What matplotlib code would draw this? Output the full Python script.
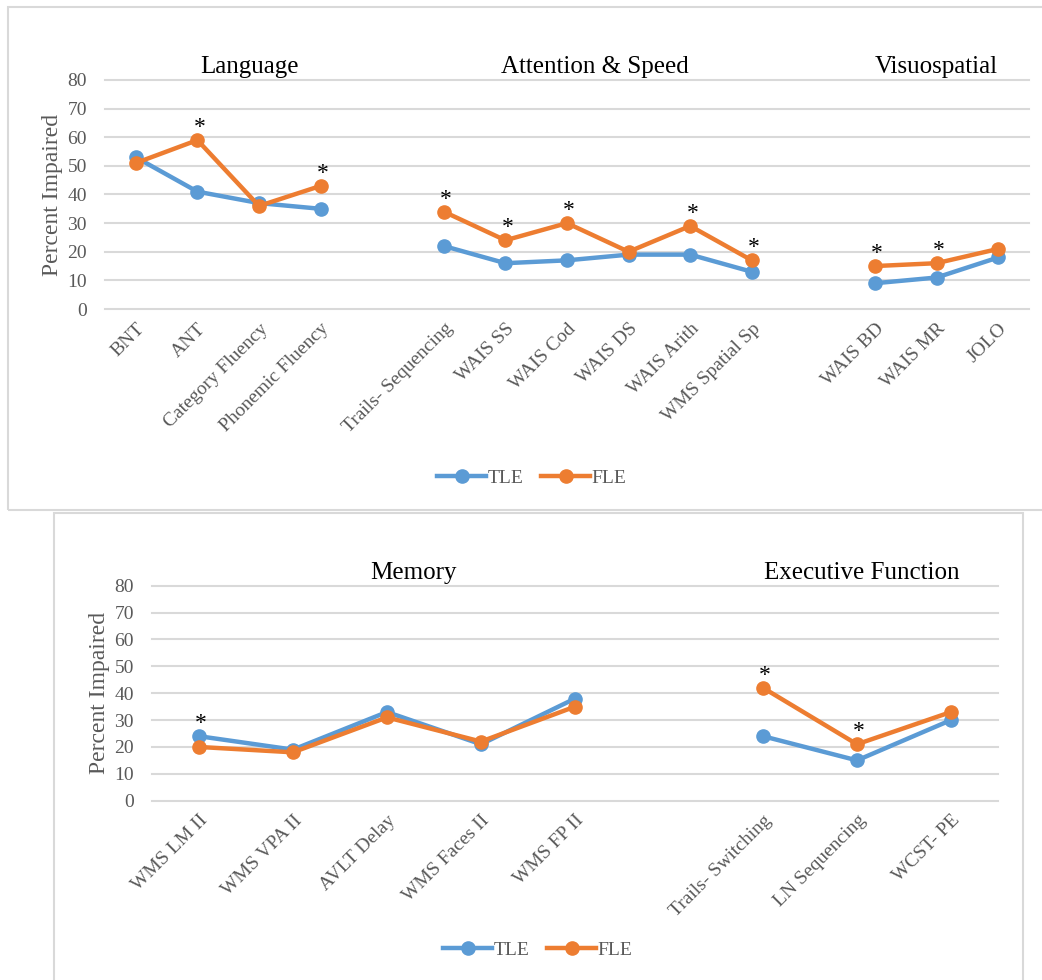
import matplotlib.pyplot as plt
import numpy as np
from matplotlib.lines import Line2D
from matplotlib.patches import Rectangle

plt.rcParams["font.family"] = ["Liberation Serif", "DejaVu Serif"]

TLE_COLOR = "#5B9BD5"
FLE_COLOR = "#ED7D31"
GRID_COLOR = "#D9D9D9"
TEXT_GRAY = "#595959"

# --- top panel data -------------------------------------------------------
LANG_LABELS = ["BNT", "ANT", "Category Fluency", "Phonemic Fluency"]
LANG_TLE = [53, 41, 37, 35]
LANG_FLE = [51, 59, 36, 43]
LANG_STAR = [False, True, False, True]

ATTN_LABELS = ["Trails- Sequencing", "WAIS SS", "WAIS Cod", "WAIS DS",
               "WAIS Arith", "WMS Spatial Sp"]
ATTN_TLE = [22, 16, 17, 19, 19, 13]
ATTN_FLE = [34, 24, 30, 20, 29, 17]
ATTN_STAR = [True, True, True, False, True, True]

VISUO_LABELS = ["WAIS BD", "WAIS MR", "JOLO"]
VISUO_TLE = [9, 11, 18]
VISUO_FLE = [15, 16, 21]
VISUO_STAR = [True, True, False]

# --- bottom panel data ----------------------------------------------------
MEM_LABELS = ["WMS LM II", "WMS VPA II", "AVLT Delay", "WMS Faces II", "WMS FP II"]
MEM_TLE = [24, 19, 33, 21, 38]
MEM_FLE = [20, 18, 31, 22, 35]
MEM_STAR = [True, False, False, False, False]

EXEC_LABELS = ["Trails- Switching", "LN Sequencing", "WCST- PE"]
EXEC_TLE = [24, 15, 30]
EXEC_FLE = [42, 21, 33]
EXEC_STAR = [True, True, False]

LW = 3.2
MS = 9.5


def draw_panel(ax, groups, title_x):
    ticks, labels = [], []
    offset = 0
    for (title, labs, tle, fle, stars), tx in zip(groups, title_x):
        x = offset + np.arange(len(labs))
        ax.plot(x, tle, color=TLE_COLOR, lw=LW, marker="o", ms=MS,
                solid_capstyle="round", zorder=3)
        ax.plot(x, fle, color=FLE_COLOR, lw=LW, marker="o", ms=MS,
                solid_capstyle="round", zorder=4)
        for xi, a, b, s in zip(x, tle, fle, stars):
            if s:
                ax.annotate("*", (xi, max(a, b)), xytext=(1.5, 9),
                            textcoords="offset points", ha="center", va="center",
                            fontsize=17, color="black", zorder=5)
        ax.text(offset + tx, 82.5, title, ha="center", va="baseline",
                fontsize=18, color="black")
        ticks.extend(x)
        labels.extend(labs)
        offset += len(labs) + 1

    ax.set_xlim(-0.5, offset - 1.5)
    ax.set_ylim(0, 80)
    ax.set_yticks(range(0, 81, 10))
    ax.set_xticks(ticks)
    ax.set_xticklabels(labels, rotation=45, ha="right", rotation_mode="anchor",
                       fontsize=14, color=TEXT_GRAY)
    ax.tick_params(axis="y", length=0, pad=13, labelsize=14, labelcolor=TEXT_GRAY)
    ax.tick_params(axis="x", length=0, pad=8)
    for sp in ax.spines.values():
        sp.set_visible(False)
    ax.yaxis.grid(True, color=GRID_COLOR, lw=1.5)
    for gl in ax.get_ygridlines():
        gl.set_clip_on(False)
    ax.set_axisbelow(True)
    ax.set_ylabel("Percent Impaired", fontsize=17, color=TEXT_GRAY, labelpad=3)


def add_legend(fig, cx, cy):
    handles = [
        Line2D([], [], color=TLE_COLOR, lw=LW, marker="o", ms=MS),
        Line2D([], [], color=FLE_COLOR, lw=LW, marker="o", ms=MS),
    ]
    leg = fig.legend(handles, ["TLE", "FLE"], loc="center", bbox_to_anchor=(cx, cy),
                     ncol=2, frameon=False, fontsize=14, handlelength=2.5,
                     handletextpad=0.1, columnspacing=0.9)
    for t in leg.get_texts():
        t.set_color(TEXT_GRAY)


W, H = 1042, 980
fig = plt.figure(figsize=(W / 100, H / 100), dpi=100)

# panel frames
fig.patches.append(Rectangle((8 / W, 1 - 510 / H), 1.1, (510 - 7) / H,
                             transform=fig.transFigure, fill=False,
                             edgecolor=GRID_COLOR, lw=1.5))
fig.patches.append(Rectangle((54 / W, -0.1), (1023 - 54) / W, 0.1 + (980 - 513) / H,
                             transform=fig.transFigure, fill=False,
                             edgecolor=GRID_COLOR, lw=1.5))

ax_top = fig.add_axes([105 / W, 1 - 309 / H, (1029 - 105) / W, (309 - 80) / H])
draw_panel(ax_top, [
    ("Language", LANG_LABELS, LANG_TLE, LANG_FLE, LANG_STAR),
    ("Attention & Speed", ATTN_LABELS, ATTN_TLE, ATTN_FLE, ATTN_STAR),
    ("Visuospatial", VISUO_LABELS, VISUO_TLE, VISUO_FLE, VISUO_STAR),
], title_x=[1.85, 2.45, 1.0])
add_legend(fig, 532 / W, 1 - 478 / H)

ax_bot = fig.add_axes([152 / W, 1 - 800.7 / H, (998 - 152) / W, (800.7 - 585.7) / H])
draw_panel(ax_bot, [
    ("Memory", MEM_LABELS, MEM_TLE, MEM_FLE, MEM_STAR),
    ("Executive Function", EXEC_LABELS, EXEC_TLE, EXEC_FLE, EXEC_STAR),
], title_x=[2.28, 1.05])
add_legend(fig, 538 / W, 1 - 950 / H)

fig.savefig("out.png", dpi=100)
